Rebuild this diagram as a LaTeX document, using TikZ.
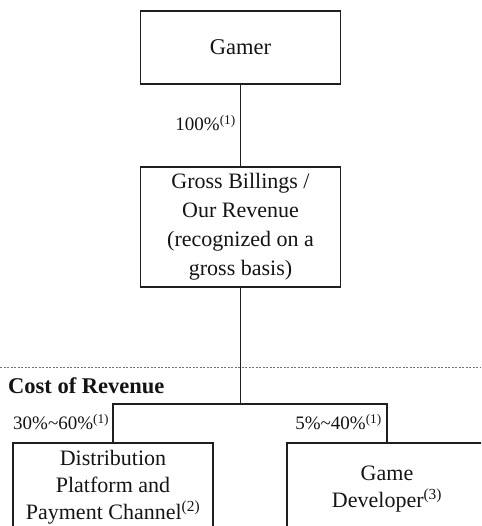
\documentclass[tikz,border=0pt]{standalone}
\usepackage{fontspec}
\setmainfont{Liberation Serif}
\begin{document}
\begin{tikzpicture}[x=1pt,y=-1pt,
  every node/.style={font=\fontsize{22}{27}\selectfont, text=black!92},
  box/.style={draw=black!88, line width=1.2pt, align=center, inner sep=0pt,
    minimum width=200pt},
  link/.style={draw=black!88, line width=1.2pt},
  pct/.style={inner sep=0pt, font=\fontsize{19}{22}\selectfont},
  sep/.style={draw=black!55, line width=0.5pt, dash pattern=on 2pt off 1.5pt}]
\useasboundingbox (0,0) rectangle (481,526);
\clip (0,0) rectangle (481,526);

% flow boxes
\node[box, minimum height=73pt, font=\fontsize{22.5}{27}\selectfont] (gamer) at (240.5,47.5) {Gamer};
\node[box, minimum height=120pt, font=\fontsize{22}{29}\selectfont] (gross) at (240.5,227)
  {Gross Billings /\\ Our Revenue\\ (recognized on a\\ gross basis)};
\node[box, minimum height=88pt] (dist) at (113,487)
  {Distribution\\ Platform and\\ Payment Channel\textsuperscript{(2)}};
\node[box, minimum height=92pt] (dev) at (387,489)
  {Game\\ Developer\textsuperscript{(3)}};

% section divider and heading
\coordinate (divL) at (0,367);
\coordinate (divR) at (481,367);
\draw[sep] (divL) -- (divR);
\node[anchor=west, inner sep=0pt, font=\fontsize{22.5}{27}\selectfont\bfseries]
  (cost) at (8,386) {Cost of Revenue};

% connectors
\coordinate (split) at (240.5,404);
\draw[link] (gamer.south) -- (gross.north);
\draw[link] (gross.south) -- (split);
\draw[link] (dist.north) |- (split) -| (dev.north);

% percentage labels
\node[pct, anchor=east] (p100) at (236,123) {100\%\textsuperscript{(1)}};
\node[pct, anchor=west] (pdist) at (13,422) {30\%\textasciitilde60\%\textsuperscript{(1)}};
\node[pct, anchor=east] (pdev) at (382,422) {5\%\textasciitilde40\%\textsuperscript{(1)}};
\end{tikzpicture}
\end{document}
